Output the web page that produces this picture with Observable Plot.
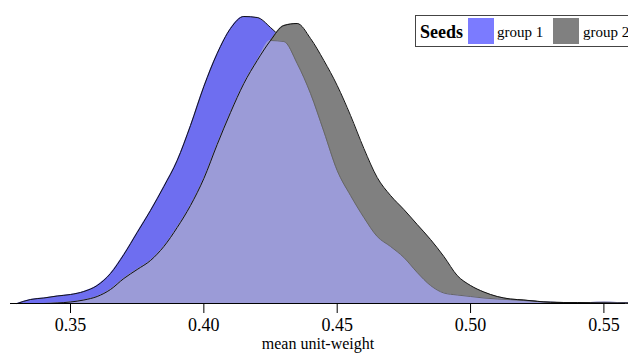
<!DOCTYPE html>
<html>
<head>
<meta charset="utf-8">
<script src="https://cdn.jsdelivr.net/npm/d3@7"></script>
<script src="https://cdn.jsdelivr.net/npm/@observablehq/plot@0.6"></script>
<style>
  html, body { margin: 0; padding: 0; background: #fff; overflow: hidden; }
  #chart { position: relative; width: 628px; height: 354px; }
  #chart svg text { font-family: 'Liberation Serif', 'Times New Roman', serif; }
</style>
</head>
<body>
<div id="chart"></div>
<script>
// Grid of mean unit-weight values
const xs = [0.330,0.335,0.340,0.345,0.350,0.355,0.360,0.365,0.370,0.375,0.380,0.385,0.390,0.395,0.400,0.405,0.410,0.415,0.420,0.425,0.430,0.435,0.440,0.445,0.450,0.455,0.460,0.465,0.470,0.475,0.480,0.485,0.490,0.495,0.500,0.505,0.510,0.515,0.520,0.525,0.530,0.535,0.540,0.545,0.550,0.555,0.560];
// Relative density, group 1
const group1 = [0,4,5.5,7.5,9,12,18,30,49,71,93,117,143,178,217,250,275,287,286,276,262,240,210,172,133,108,86,67,57,46,31,18,10.5,8.5,7,5.5,4.5,3.8,3,2,1.2,1,1,1,1.2,1,0.5];
// Relative density, group 2
const group2 = [0,0,0,0.5,1.5,3.5,7,14,25,34,43,57,76,98,125,159,191,220,243,263,278,280,265,243,218,188,155,126,108,94,79,64,47,28,18,11.5,7,4.5,3.5,2.2,1.2,1,1,0.8,0.6,0.4,0];
const seriesNames = ["group 1", "group 2"];
const legendTitle = "Seeds";
const tickValues = [0.35, 0.40, 0.45, 0.50, 0.55];
const tickLabels = ["0.35", "0.40", "0.45", "0.50", "0.55"];
const xLabel = "mean unit-weight";

const colors = { g1: "#6e6ef0", g2: "#808080", overlap: "#9b9bd7", sw1: "#7b7bff", sw2: "#808080" };

const rows = xs.map((x, i) => ({
  x,
  g1: group1[i],
  g2: group2[i],
  lo: Math.min(group1[i], group2[i]),
  g1under: group1[i] <= group2[i] ? group1[i] : NaN
}));
for (let i = 0; i < rows.length; i++) {
  if (isNaN(rows[i].g1under)) {
    const prevOk = i > 0 && group1[i-1] <= group2[i-1];
    const nextOk = i < rows.length - 1 && group1[i+1] <= group2[i+1];
    if (prevOk || nextOk) rows[i].g1under = rows[i].lo;
  }
}

const curve = "monotone-x";
const font = "'Liberation Serif', 'Times New Roman', serif";

const plot = Plot.plot({
  width: 628,
  height: 354,
  marginLeft: 10,
  marginRight: 3,
  marginTop: 3,
  marginBottom: 51,
  style: { fontFamily: font, background: "#fff", color: "#000" },
  x: { domain: [0.3275, 0.5581] },
  y: { domain: [0, 300], axis: null },
  marks: [
    Plot.areaY(rows, { x: "x", y: "g1", fill: colors.g1, curve }),
    Plot.lineY(rows, { x: "x", y: "g1", stroke: "#111", strokeWidth: 1, curve }),
    Plot.areaY(rows, { x: "x", y: "g2", fill: colors.g2, curve }),
    Plot.areaY(rows, { x: "x", y: "lo", fill: colors.overlap, curve }),
    Plot.lineY(rows, { x: "x", y: "g1under", stroke: "#666", strokeWidth: 1, curve }),
    Plot.lineY(rows, { x: "x", y: "g2", stroke: "#111", strokeWidth: 1, curve }),
    Plot.ruleY([0], { stroke: "#000", strokeWidth: 1 }),
    Plot.axisX({
      ticks: tickValues,
      tickFormat: (d, i) => tickLabels[i],
      tickSize: 10,
      tickPadding: 5,
      fontSize: 18,
      fontFamily: font,
      label: null,
      stroke: "#000"
    }),
    Plot.text([xLabel], { frameAnchor: "bottom", dy: 45, fontSize: 16, fontFamily: font, fill: "#000" })
  ]
});

document.getElementById("chart").appendChild(plot);

// Legend
const svg = d3.select(plot);
const lg = svg.append("g").attr("font-family", font).attr("text-anchor", "start");
lg.append("rect").attr("x", 415.5).attr("y", 15.5).attr("width", 230).attr("height", 31)
  .attr("fill", "#fff").attr("stroke", "#444").attr("stroke-width", 1);
lg.append("text").attr("x", 420).attr("y", 37.5).attr("font-size", 18).attr("font-weight", "bold")
  .attr("text-anchor", "start").attr("fill", "#000").text(legendTitle);
const items = [
  { name: seriesNames[0], color: colors.sw1, sx: 468, tx: 497 },
  { name: seriesNames[1], color: colors.sw2, sx: 553, tx: 583 }
];
for (const it of items) {
  lg.append("rect").attr("x", it.sx).attr("y", 18).attr("width", 26).attr("height", 26).attr("fill", it.color);
  lg.append("text").attr("x", it.tx).attr("y", 37).attr("font-size", 15)
    .attr("text-anchor", "start").attr("fill", "#000").text(it.name);
}
</script>
</body>
</html>
